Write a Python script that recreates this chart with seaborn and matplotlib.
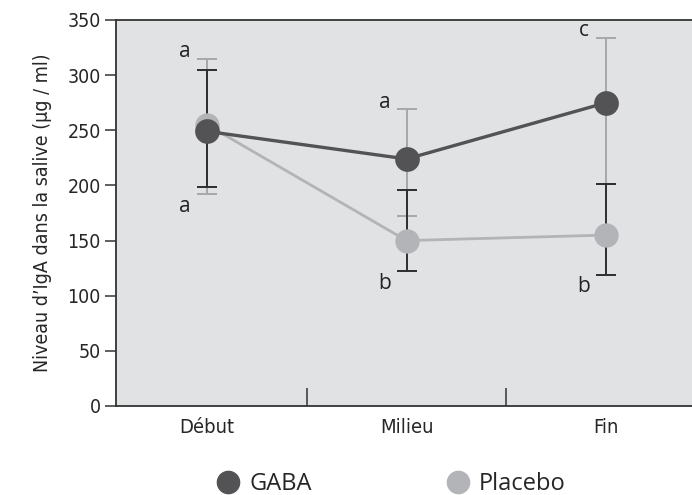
import numpy as np
import pandas as pd
import seaborn as sns
from matplotlib import pyplot as plt
from matplotlib.lines import Line2D
from matplotlib.font_manager import FontProperties

# data
categories = ['Début', 'Milieu', 'Fin']
gaba = [249, 224, 275]
placebo = [255, 150, 155]
# error bars as drawn (dark and light whiskers)
dark_lo = [199, 122, 119]
dark_hi = [305, 196, 201]
light_lo = [192, 172, 201]
light_hi = [315, 269, 334]
letters_top = ['a', 'a', 'c']
letters_bottom = ['a', 'b', 'b']

df = pd.DataFrame({
    'moment': categories * 2,
    'igA': gaba + placebo,
    'groupe': ['GABA'] * 3 + ['Placebo'] * 3,
})

sns.set_theme(style='white')
plt.rcParams['font.family'] = ['DejaVu Sans']
plt.rcParams['font.stretch'] = 'condensed'

dark_col = '#535356'
light_col = '#b3b4b7'
bar_dark = '#2e2e30'
bar_light = '#a6a7aa'

fig = plt.figure(figsize=(6.92, 4.95), dpi=100)
ax = fig.add_axes([0.1676, 0.1798, 0.8324, 0.7798])
ax.set_facecolor('#e1e2e4')

x = np.arange(len(categories))
ax.errorbar(x, [(a + b) / 2 for a, b in zip(light_lo, light_hi)],
            yerr=[[(b - a) / 2 for a, b in zip(light_lo, light_hi)]] * 2,
            fmt='none', ecolor=bar_light, elinewidth=1.4, capsize=7, capthick=1.4, zorder=2)
ax.errorbar(x, [(a + b) / 2 for a, b in zip(dark_lo, dark_hi)],
            yerr=[[(b - a) / 2 for a, b in zip(dark_lo, dark_hi)]] * 2,
            fmt='none', ecolor=bar_dark, elinewidth=1.4, capsize=7, capthick=1.4, zorder=3)

sns.pointplot(data=df[df.groupe == 'Placebo'], x='moment', y='igA', order=categories,
              color=light_col, errorbar=None, markersize=16, linewidth=2, ax=ax, zorder=4)
sns.pointplot(data=df[df.groupe == 'GABA'], x='moment', y='igA', order=categories,
              color=dark_col, errorbar=None, markersize=16, linewidth=2.4, ax=ax, zorder=5)

letter_font = FontProperties(family=['Open Sans', 'DejaVu Sans'], stretch='normal', size=15)
for i in range(len(categories)):
    top = max(dark_hi[i], light_hi[i])
    bot = min(dark_lo[i], light_lo[i])
    ax.annotate(letters_top[i], (i, top), xytext=(-16, 1), textcoords='offset points',
                ha='center', va='baseline', color='#222222', fontproperties=letter_font)
    ax.annotate(letters_bottom[i], (i, bot), xytext=(-16, -1), textcoords='offset points',
                ha='center', va='top', color='#222222', fontproperties=letter_font)

ax.set_xlim(-0.456, 2.43)
ax.set_ylim(0, 350)
ax.set_yticks(range(0, 351, 50))
ax.set_xlabel('')
ax.set_ylabel("Niveau d’IgA dans la salive (µg / ml)", fontsize=14, labelpad=11)

for s in ['left', 'bottom', 'top']:
    ax.spines[s].set_color('#333333')
    ax.spines[s].set_linewidth(1.3)
ax.spines['right'].set_visible(False)

ax.tick_params(axis='y', direction='out', length=8, width=1.1, color='#333333',
               labelsize=14, pad=3, left=True)
ax.tick_params(axis='x', length=0, labelsize=14.5, pad=9)
ax.set_xticks(x, categories)
ax.set_xticks([0.5, 1.5], minor=True)
ax.tick_params(axis='x', which='minor', direction='in', length=13, width=1.1,
               color='#333333', bottom=True)

handles = [Line2D([], [], marker='o', linestyle='none', markersize=16, color=dark_col),
           Line2D([], [], marker='o', linestyle='none', markersize=16, color=light_col)]
fig.legend(handles, ['GABA', 'Placebo'], loc='lower center', ncol=2, frameon=False,
           bbox_to_anchor=(0.565, -0.045), columnspacing=5.7, handlelength=1.0,
           handletextpad=0.4,
           prop=FontProperties(family=['Open Sans', 'DejaVu Sans'], stretch='normal', size=17))

fig.savefig('out.png', dpi=100)
